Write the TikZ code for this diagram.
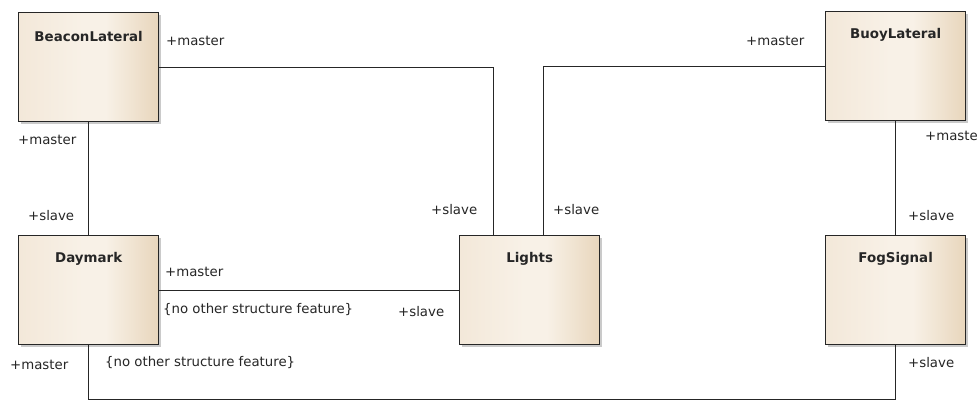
\documentclass[tikz,border=0pt]{standalone}
\usepackage{fontspec}
\setmainfont{DejaVu Sans}
\usetikzlibrary{calc}
\definecolor{boxleft}{HTML}{F3E8D9}
\definecolor{boxmid}{HTML}{F8F1E7}
\definecolor{boxright}{HTML}{E8D6BC}
\definecolor{shadowgray}{HTML}{BDBDBD}
\pgfdeclarehorizontalshading{classfill}{100bp}{color(0bp)=(boxleft); color(25bp)=(boxleft);
  color(48bp)=(boxmid); color(56bp)=(boxmid); color(75bp)=(boxright); color(100bp)=(boxright)}
\tikzset{
  umlbox/.style={draw=black!85, line width=1.3pt, anchor=north west,
    minimum width=140pt, minimum height=109pt, inner sep=0pt, shading=classfill},
  boxshadow/.style={fill=shadowgray, draw=none, anchor=north west,
    minimum width=140pt, minimum height=109pt, inner sep=0pt, opacity=0.8},
  title/.style={font=\bfseries\fontsize{13.4}{15}\selectfont, text=black!85, inner sep=0pt},
  role/.style={font=\fontsize{13.3}{15}\selectfont, text=black!85, anchor=west, inner sep=0pt},
  assoc/.style={draw=black!85, line width=1.1pt},
}
\begin{document}
\begin{tikzpicture}[x=1pt, y=-1pt]
\useasboundingbox (0,0) rectangle (977,400);
\fill[white] (0,0) rectangle (977,400);

% drop shadows of the classes
\node[boxshadow] (BLs) at (21,15) {};
\node[boxshadow] (BUs) at (828,14) {};
\node[boxshadow] (DMs) at (21,238) {};
\node[boxshadow] (LIs) at (462,238) {};
\node[boxshadow] (FSs) at (828,238) {};

% classes
\node[umlbox] (BL) at (18,12) {};
\node[umlbox] (BU) at (825,11) {};
\node[umlbox] (DM) at (18,235) {};
\node[umlbox] (LI) at (459,235) {};
\node[umlbox] (FS) at (825,235) {};

\node[title] (BLt) at ($(BL.north)+(0,24)$) {BeaconLateral};
\node[title] (BUt) at ($(BU.north)+(0,24)$) {BuoyLateral};
\node[title] (DMt) at ($(DM.north)+(0,24)$) {Daymark};
\node[title] (LIt) at ($(LI.north)+(0,24)$) {Lights};
\node[title] (FSt) at ($(FS.north)+(0,24)$) {FogSignal};

% associations
\draw[assoc] (BL.east) -| ($(LI.north)+(-36,0)$);
\draw[assoc] (BU.west) -| ($(LI.north)+(14,0)$);
\draw[assoc] (BL.south) -- (DM.north);
\draw[assoc] (BU.south) -- (FS.north);
\draw[assoc] (DM.east) -- (DM.east -| LI.west);
\coordinate (bottom) at (0,399.8);
\draw[assoc] (DM.south) -- (DM.south |- bottom) -| (FS.south);

% role names
\node[role] (r1) at (166,41) {+master};
\node[role] (r2) at (18,140) {+master};
\node[role] (r3) at (28,216) {+slave};
\node[role] (r4) at (431,210) {+slave};
\node[role] (r5) at (553,210) {+slave};
\node[role] (r6) at (746,41) {+master};
\node[role] (r7) at (925,136) {+master};
\node[role] (r8) at (908,216) {+slave};
\node[role] (r9) at (165,272) {+master};
\node[role] (r10) at (163,310) {\{no other structure feature\}};
\node[role] (r11) at (398,312) {+slave};
\node[role] (r12) at (10,365) {+master};
\node[role] (r13) at (105,363) {\{no other structure feature\}};
\node[role] (r14) at (908,363) {+slave};
\end{tikzpicture}
\end{document}
